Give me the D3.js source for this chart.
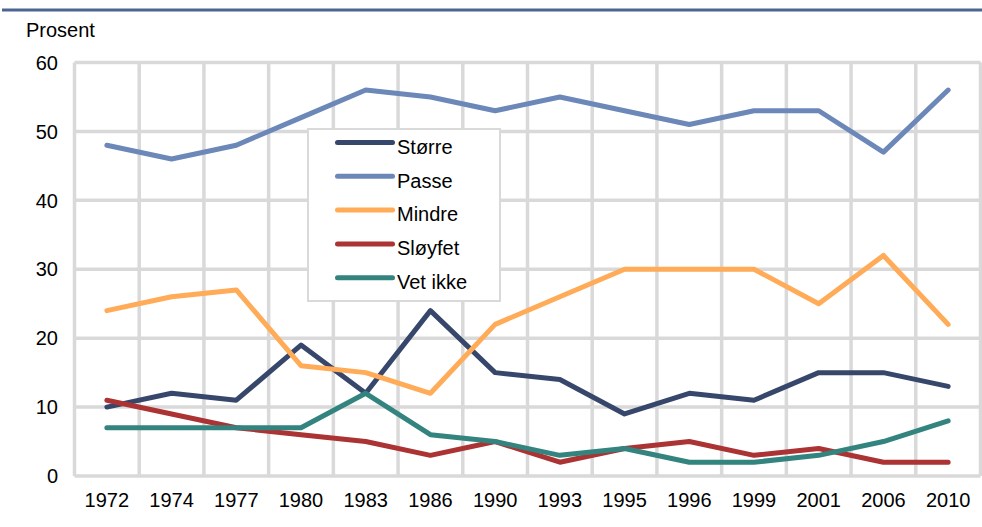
<!DOCTYPE html>
<html>
<head>
<meta charset="utf-8">
<script src="https://cdn.jsdelivr.net/npm/d3@7"></script>
<style>
  body { margin: 0; background: #fff; }
  text { font-family: "Liberation Sans", Arial, sans-serif; fill: #000; }
</style>
</head>
<body>
<div id="chart"></div>
<script>
// Data
const years = ["1972", "1974", "1977", "1980", "1983", "1986", "1990", "1993", "1995", "1996", "1999", "2001", "2006", "2010"];
const storre = [10, 12, 11, 19, 12, 24, 15, 14, 9, 12, 11, 15, 15, 13];
const passe = [48, 46, 48, 52, 56, 55, 53, 55, 53, 51, 53, 53, 47, 56];
const mindre = [24, 26, 27, 16, 15, 12, 22, 26, 30, 30, 30, 25, 32, 22];
const sloyfet = [11, 9, 7, 6, 5, 3, 5, 2, 4, 5, 3, 4, 2, 2];
const vetIkke = [7, 7, 7, 7, 12, 6, 5, 3, 4, 2, 2, 3, 5, 8];
const yTicks = [0, 10, 20, 30, 40, 50, 60];

const series = [
  { name: "Større", values: storre, color: "#37476b" },
  { name: "Passe", values: passe, color: "#6b88b9" },
  { name: "Mindre", values: mindre, color: "#ffab57" },
  { name: "Sløyfet", values: sloyfet, color: "#ab3333" },
  { name: "Vet ikke", values: vetIkke, color: "#33847f" }
];

const width = 982;
const height = 527;
const plot = { left: 74.5, right: 980.5, top: 62.5, bottom: 476 };
const fontSize = 20;

const svg = d3.select("#chart").append("svg")
  .attr("width", width)
  .attr("height", height);

// Top rule
svg.append("line")
  .attr("x1", 2).attr("x2", 982)
  .attr("y1", 10).attr("y2", 10)
  .attr("stroke", "#4a6591")
  .attr("stroke-width", 3);

// Scales
const x = d3.scaleBand().domain(years).range([plot.left, plot.right]);
const y = d3.scaleLinear().domain([0, 60]).range([plot.bottom, plot.top]);

const grid = svg.append("g").attr("stroke", "#d9d9d9").attr("stroke-width", 3.5);

// Horizontal gridlines
grid.selectAll(".hgrid")
  .data(yTicks)
  .join("line")
  .attr("x1", plot.left).attr("x2", plot.right)
  .attr("y1", d => y(d)).attr("y2", d => y(d));

// Vertical gridlines at category boundaries
const bounds = years.map(d => x(d)).concat([x(years[years.length - 1]) + x.bandwidth()]);
grid.selectAll(".vgrid")
  .data(bounds)
  .join("line")
  .attr("x1", d => d).attr("x2", d => d)
  .attr("y1", plot.top).attr("y2", plot.bottom);

// Y tick labels
svg.selectAll(".ylab")
  .data(yTicks)
  .join("text")
  .attr("x", 58)
  .attr("y", d => y(d))
  .attr("dy", "0.36em")
  .attr("text-anchor", "end")
  .attr("font-size", fontSize)
  .text(d => d);

// X tick labels
svg.selectAll(".xlab")
  .data(years)
  .join("text")
  .attr("x", d => x(d) + x.bandwidth() / 2)
  .attr("y", 507)
  .attr("text-anchor", "middle")
  .attr("font-size", fontSize)
  .text(d => d);

// Axis title
svg.append("text")
  .attr("x", 26)
  .attr("y", 37)
  .attr("font-size", fontSize)
  .text("Prosent");

// Lines
const line = d3.line()
  .x((d, i) => x(years[i]) + x.bandwidth() / 2)
  .y(d => y(d));

svg.selectAll(".series")
  .data(series)
  .join("path")
  .attr("fill", "none")
  .attr("stroke", d => d.color)
  .attr("stroke-width", 5)
  .attr("stroke-linejoin", "round")
  .attr("stroke-linecap", "round")
  .attr("d", d => line(d.values));

// Legend
const legend = svg.append("g").attr("transform", "translate(308,129)");
legend.append("rect")
  .attr("width", 192).attr("height", 172)
  .attr("fill", "#fff")
  .attr("stroke", "#d9d9d9")
  .attr("stroke-width", 2);

const item = legend.selectAll(".item")
  .data(series)
  .join("g")
  .attr("transform", (d, i) => `translate(0,${13.5 + i * 33.8})`);

item.append("line")
  .attr("x1", 29.5).attr("x2", 84.5)
  .attr("y1", 0).attr("y2", 0)
  .attr("stroke", d => d.color)
  .attr("stroke-width", 5)
  .attr("stroke-linecap", "round");

item.append("text")
  .attr("x", 89)
  .attr("y", 4)
  .attr("dy", "0.36em")
  .attr("font-size", fontSize)
  .text(d => d.name);
</script>
</body>
</html>
